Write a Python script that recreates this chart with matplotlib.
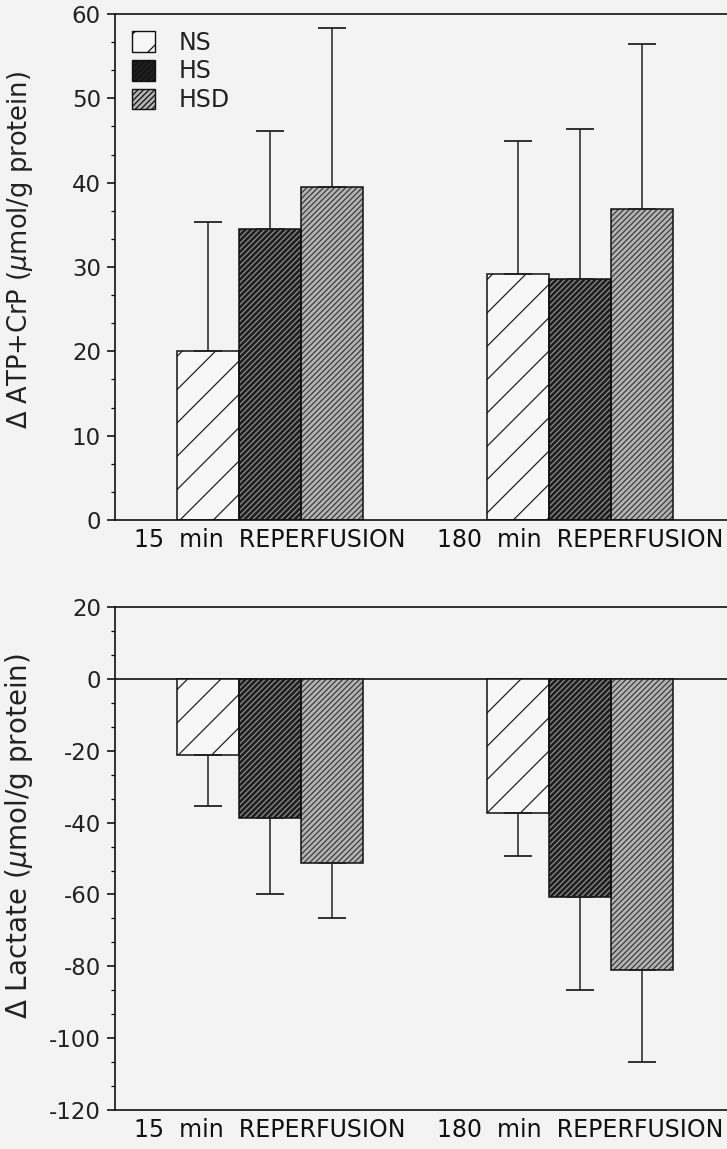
import matplotlib
matplotlib.use("Agg")
import matplotlib.pyplot as plt
import numpy as np
from matplotlib.patches import Patch
from matplotlib.ticker import MultipleLocator

plt.rcParams['axes.unicode_minus'] = False
plt.rcParams['hatch.linewidth'] = 0.9
plt.rcParams['mathtext.fontset'] = 'dejavusans'

groups = ["15  min  REPERFUSION", "180  min  REPERFUSION"]
series = ["NS", "HS", "HSD"]

atp_mean = {"NS": [20.0, 29.2], "HS": [34.5, 28.6], "HSD": [39.5, 36.9]}
atp_err = {"NS": [15.3, 15.8], "HS": [11.6, 17.8], "HSD": [18.8, 19.6]}

lac_mean = {"NS": [-21.1, -37.3], "HS": [-38.8, -60.6], "HSD": [-51.3, -81.1]}
lac_err = {"NS": [14.4, 12.1], "HS": [21.0, 26.1], "HSD": [15.3, 25.5]}

atp_ticks = [0, 10, 20, 30, 40, 50, 60]
lac_ticks = [20, 0, -20, -40, -60, -80, -100, -120]

styles = {
    "NS": dict(face="#f7f7f7", hatch="/", hcolor="#222222"),
    "HS": dict(face="#1e1e1e", hatch="//////", hcolor="#8c8c8c"),
    "HSD": dict(face="#b4b4b4", hatch="//////", hcolor="#3c3c3c"),
}

bg = "#f3f3f3"
fig = plt.figure(figsize=(7.27, 11.49), dpi=100, facecolor=bg)
ax1 = fig.add_axes([0.158, 0.5474, 0.842, 0.4404], facecolor=bg)
ax2 = fig.add_axes([0.158, 0.0339, 0.842, 0.4378], facecolor=bg)

x = np.arange(len(groups))
w = 0.2
offsets = [-w, 0, w]

tick_font = dict(family="DejaVu Sans", size=16.5, color="#222222")


def draw(ax, means, errs, positive):
    for s, off in zip(series, offsets):
        st = styles[s]
        ax.bar(x + off, means[s], w, color=st["face"], edgecolor=st["hcolor"],
               hatch=st["hatch"], linewidth=0, zorder=2)
        ax.bar(x + off, means[s], w, fill=False, edgecolor="#111111",
               linewidth=1.1, zorder=3)
        e = np.array(errs[s])
        z = np.zeros_like(e)
        yerr = [z, e] if positive else [e, z]
        ax.errorbar(x + off, means[s], yerr=yerr, fmt="none", ecolor="#222222",
                    elinewidth=1.1, capsize=10, capthick=1.3, zorder=4)


draw(ax1, atp_mean, atp_err, True)
draw(ax2, lac_mean, lac_err, False)

for ax in (ax1, ax2):
    ax.set_xlim(-0.5, 1.474)
    ax.spines['right'].set_visible(False)
    for sp in ('left', 'top', 'bottom'):
        ax.spines[sp].set_linewidth(1.2)
        ax.spines[sp].set_color("#111111")
    ax.set_xticks(x)
    ax.set_xticklabels(groups, family="DejaVu Sans", size=17, color="#111111")
    ax.tick_params(axis='x', length=0, pad=6)
    ax.tick_params(axis='y', which='major', length=6, width=1.1, pad=4)
    ax.tick_params(axis='y', which='minor', length=3, width=0.9)

ax1.set_ylim(0, 60)
ax1.set_yticks(atp_ticks)
ax1.set_yticklabels([str(t) for t in atp_ticks], **tick_font)
ax1.yaxis.set_minor_locator(MultipleLocator(10 / 3))
ax1.set_ylabel("Δ ATP+CrP ($\\mu$mol/g protein)", family="DejaVu Sans", size=18.5, color="#222222")
ax1.yaxis.set_label_coords(-0.131, 0.534)

ax2.set_ylim(-120, 20)
ax2.set_yticks(lac_ticks)
ax2.set_yticklabels([str(t) for t in lac_ticks], **tick_font)
ax2.yaxis.set_minor_locator(MultipleLocator(20 / 3))
ax2.axhline(0, color="#111111", linewidth=1.2, zorder=1)
ax2.set_ylabel("Δ Lactate ($\\mu$mol/g protein)", family="DejaVu Sans", size=20, color="#222222")
ax2.yaxis.set_label_coords(-0.131, 0.545)

handles = [Patch(facecolor=styles[s]["face"], edgecolor=styles[s]["hcolor"],
                 hatch=styles[s]["hatch"], linewidth=0) for s in series]
leg = ax1.legend(handles, series, loc="upper left", bbox_to_anchor=(0.005, 0.995),
                 frameon=False, handlelength=0.95, handleheight=0.95,
                 handletextpad=1.0, labelspacing=0.2, borderaxespad=0.2,
                 prop=dict(family="DejaVu Sans", size=17))
for h in leg.legend_handles:
    h.set_edgecolor("#111111")
    h.set_linewidth(1.0)
for t in leg.get_texts():
    t.set_color("#222222")

fig.savefig("out.png", dpi=100, facecolor=bg)
